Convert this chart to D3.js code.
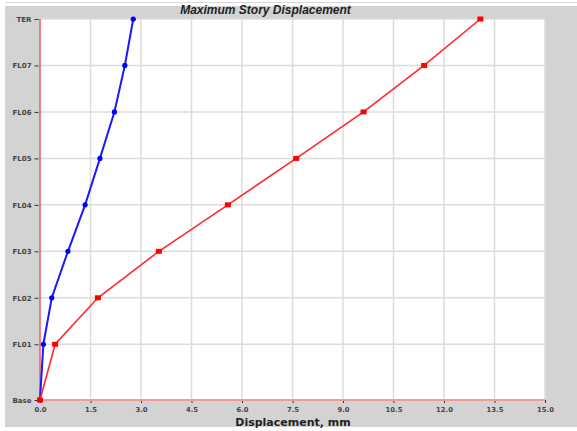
<!DOCTYPE html>
<html><head><meta charset="utf-8">
<script src="https://cdn.jsdelivr.net/npm/d3@7"></script>
<style>html,body{margin:0;padding:0;background:#fff;}svg{display:block;}</style>
</head><body>
<svg id="c" width="577" height="431"></svg>
<script>
const stories = ["Base","FL01","FL02","FL03","FL04","FL05","FL06","FL07","TER"];
const elevations = [0, 3.6, 6.6, 9.6, 12.6, 15.6, 18.6, 21.6, 24.6];
const seriesBlue = [0, 0.10, 0.35, 0.83, 1.34, 1.78, 2.21, 2.52, 2.77];
const seriesRed = [0, 0.45, 1.72, 3.53, 5.58, 7.61, 9.61, 11.41, 13.08];
const xTicks = [0, 1.5, 3, 4.5, 6, 7.5, 9, 10.5, 12, 13.5, 15];
const titleText = "Maximum Story Displacement";
const xTitle = "Displacement, mm";

const svg = d3.select("#c");
const L = 40, R = 545, T = 19, B = 400;
const x = d3.scaleLinear().domain([0, 15]).range([L, R]);
const y = d3.scaleLinear().domain([0, 24.6]).range([B, T]);

// panel
svg.append("line").attr("x1",5).attr("x2",577).attr("y1",2.5).attr("y2",2.5).attr("stroke","#d8d8d8").attr("stroke-width",1);
svg.append("rect").attr("x",5).attr("y",6).attr("width",572).attr("height",421).attr("fill","#d3d3d3");
svg.append("rect").attr("x",L).attr("y",T).attr("width",R-L).attr("height",B-T).attr("fill","#fff");

// grid
const g = svg.append("g");
g.selectAll("line.vx").data(xTicks.filter(d=>d>0)).enter().append("line")
  .attr("x1",d=>x(d)).attr("x2",d=>x(d)).attr("y1",T).attr("y2",B)
  .attr("stroke","#dcdcdc").attr("stroke-width",1.5);
g.selectAll("line.hy").data(elevations.filter(d=>d>0)).enter().append("line")
  .attr("x1",L).attr("x2",R).attr("y1",d=>y(d)).attr("y2",d=>y(d))
  .attr("stroke","#dcdcdc").attr("stroke-width",1.5);

// axes
const xAxis = d3.axisBottom(x).tickValues(xTicks).tickFormat(d3.format(".1f")).tickSize(3).tickPadding(4);
const ax = svg.append("g").attr("transform",`translate(0,${B})`).call(xAxis);
ax.select(".domain").remove();
ax.selectAll(".tick line").attr("stroke","#333").attr("stroke-width",1);
ax.selectAll(".tick text").attr("font-family","DejaVu Sans").attr("font-weight","bold").attr("font-size",6.8).attr("fill","#444");

const yAxis = d3.axisLeft(y).tickValues(elevations).tickFormat((d,i)=>stories[i]).tickSize(4).tickPadding(3);
const ay = svg.append("g").attr("transform",`translate(${L-1.5},0)`).call(yAxis);
ay.select(".domain").remove();
ay.selectAll(".tick line").attr("stroke","#333").attr("stroke-width",1);
ay.selectAll(".tick text").attr("font-family","DejaVu Sans").attr("font-weight","bold").attr("font-size",7).attr("fill","#444").attr("dy","0.35em");

svg.append("line").attr("x1",L).attr("x2",R).attr("y1",B).attr("y2",B).attr("stroke","#f29a9a").attr("stroke-width",2);
svg.append("line").attr("x1",L).attr("x2",L).attr("y1",T).attr("y2",B).attr("stroke","#f25a5a").attr("stroke-width",1.5);

// series
const lineGen = vals => d3.line().x((d,i)=>x(vals[i])).y((d,i)=>y(elevations[i]))(elevations);
svg.append("path").attr("d",lineGen(seriesBlue)).attr("fill","none").attr("stroke","#1a1aff").attr("stroke-width",2);
svg.selectAll("circle.b").data(seriesBlue).enter().append("circle")
  .attr("cx",d=>x(d)).attr("cy",(d,i)=>y(elevations[i])).attr("r",2.6).attr("fill","#0000ff");
svg.append("path").attr("d",lineGen(seriesRed)).attr("fill","none").attr("stroke","#ff2a2a").attr("stroke-width",1.6);
svg.selectAll("rect.r").data(seriesRed).enter().append("rect")
  .attr("x",d=>x(d)-3).attr("y",(d,i)=>y(elevations[i])-2.5).attr("width",6).attr("height",5).attr("fill","#ff0000");

// titles
svg.append("text").attr("x",265.5).attr("y",13.5).attr("text-anchor","middle")
  .attr("font-family","Liberation Sans").attr("font-weight","bold").attr("font-style","italic").attr("font-size",12).attr("fill","#222").text(titleText);
svg.append("text").attr("x",293).attr("y",426).attr("text-anchor","middle")
  .attr("font-family","DejaVu Sans").attr("font-weight","bold").attr("font-size",11).attr("fill","#222").text(xTitle);
</script>
</body></html>
